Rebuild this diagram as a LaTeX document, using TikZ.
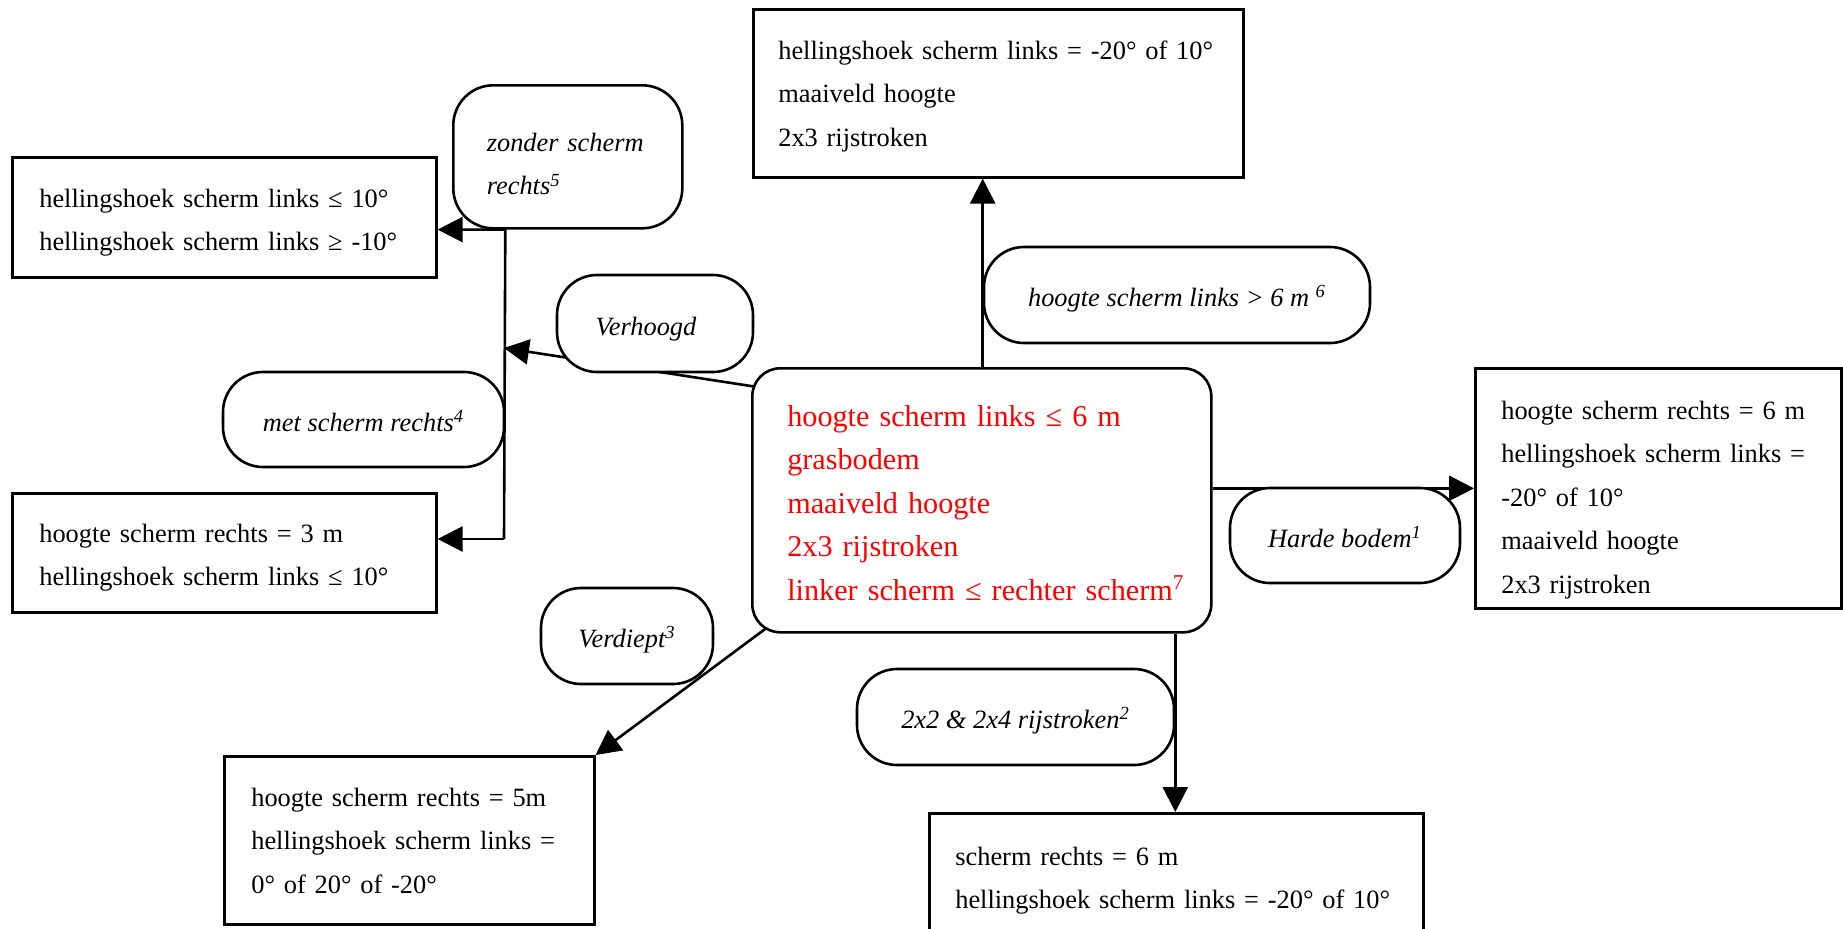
\documentclass[tikz,border=0pt]{standalone}
\usepackage{fontspec}
\setmainfont{Liberation Serif}
\newfontfamily\redserif[WordSpace=0.6]{Liberation Serif}
\newfontfamily\boxserif[WordSpace=0.87]{Liberation Serif}
\usetikzlibrary{arrows.meta}
\pgfdeclarelayer{background}
\pgfsetlayers{background,main}
\begin{document}
\begin{tikzpicture}[x=0.5pt,y=-0.5pt,line width=1.3pt,>={Triangle[length=12.5pt,width=12.5pt]},
	link/.style={->,line width=1.3pt},
	box/.style={draw,fill=white,anchor=north west,inner ysep=0pt,align=left,font=\boxserif\fontsize{13.2}{21.75}\selectfont},
	cond/.style={draw,fill=white,rounded corners=20pt,inner sep=0pt,align=center,text height=14pt,text depth=2.5pt,font=\fontsize{13.2}{21.75}\selectfont\itshape},
	basis/.style={draw,fill=white,rounded corners=14pt,anchor=north west,inner xsep=17.5pt,inner ysep=0pt,align=left,text=red,font=\redserif\fontsize{15.1}{21.75}\selectfont}]
			\useasboundingbox (0,0) rectangle (1843,928);
			\clip (0,0) rectangle (1843,928);
			\node[basis,text width=194.5pt,text height=29pt,text depth=103pt] (start) at (751,367) {hoogte scherm links ≤ 6 m\\grasbodem\\maaiveld hoogte\\2x3 rijstroken\\\mbox{linker scherm ≤ rechter scherm\textsuperscript{7}}};
			\node[box,inner xsep=12.5pt,text width=220pt,text height=25pt,text depth=59pt] (hoogres) at (752,8) {hellingshoek scherm links = -20° of 10°\\maaiveld hoogte\\2x3 rijstroken};
			\node[box,inner xsep=13.5pt,text width=185pt,text height=25pt,text depth=35pt] (zonderres) at (11,156) {hellingshoek scherm links ≤ 10°\\hellingshoek scherm links ≥ -10°};
			\node[box,inner xsep=13.5pt,text width=185pt,text height=24.5pt,text depth=35pt] (metres) at (11,492) {hoogte scherm rechts = 3 m\\hellingshoek scherm links ≤ 10°};
			\node[box,inner xsep=13.5pt,text width=158pt,text height=25pt,text depth=59pt] (verdres) at (223,755) {hoogte scherm rechts = 5m\\\makebox[\hsize][s]{hellingshoek scherm links =}\\0° of 20° of -20°};
			\node[box,inner xsep=13pt,text width=157pt,text height=25.5pt,text depth=94.5pt] (hardres) at (1474,367) {hoogte scherm rechts = 6 m\\\makebox[\hsize][s]{hellingshoek scherm links =}\\-20° of 10°\\maaiveld hoogte\\2x3 rijstroken};
			\node[box,inner xsep=13pt,text width=221pt,text height=26pt,text depth=34pt] (lanesres) at (928,812) {scherm rechts = 6 m\\hellingshoek scherm links = -20° of 10°};
			\node[cond,anchor=north west,inner xsep=16.75pt,text width=81pt,text height=33pt,text depth=38.5pt,align=left] (zonder) at (452,84) {\makebox[\hsize][s]{zonder scherm}\\rechts\textsuperscript{5}};
			\node[cond,minimum width=98pt,minimum height=48.5pt] (verh) at (655,323.5) {Verhoogd\hspace*{9pt}};
			\node[cond,minimum width=140.5pt,minimum height=47.5pt] (met) at (363.5,419.5) {met scherm rechts\textsuperscript{4}};
			\node[cond,minimum width=193pt,minimum height=48pt] (hoog) at (1177,295) {hoogte scherm links > 6 m \textsuperscript{6}};
			\node[cond,minimum width=115pt,minimum height=47.5pt] (harde) at (1345,535.5) {Harde bodem\textsuperscript{1}};
			\node[cond,minimum width=158.5pt,minimum height=48pt] (lanes) at (1015.5,717) {2x2 \& 2x4 rijstroken\textsuperscript{2}};
			\node[cond,minimum width=86pt,minimum height=48pt] (verd) at (627,636) {Verdiept\textsuperscript{3}};
			\coordinate (spinemid) at (504,348);
			\coordinate (spinebot) at (504,539);
			\begin{pgfonlayer}{background}
			\draw[link] (hoog.west |- start.north) -- (hoog.west |- hoogres.south);
			\draw[link] (start.east |- hardres.west) -- (hardres.west);
			\draw[link] (lanes.east |- start.south) -- (lanes.east |- lanesres.north);
			\draw[link] ([shift={(55,-35)}]start.south west) -- (verdres.north east);
			\draw[link] ([shift={(29,23.5)}]start.north west) -- (spinemid);
			\draw[link] (spinebot) -- (met.east |- zonder.south) -- (zonderres.east |- zonder.south);
			\draw[link] (spinebot) -- (spinebot -| metres.east);
			\end{pgfonlayer}
	\end{tikzpicture}
\end{document}
